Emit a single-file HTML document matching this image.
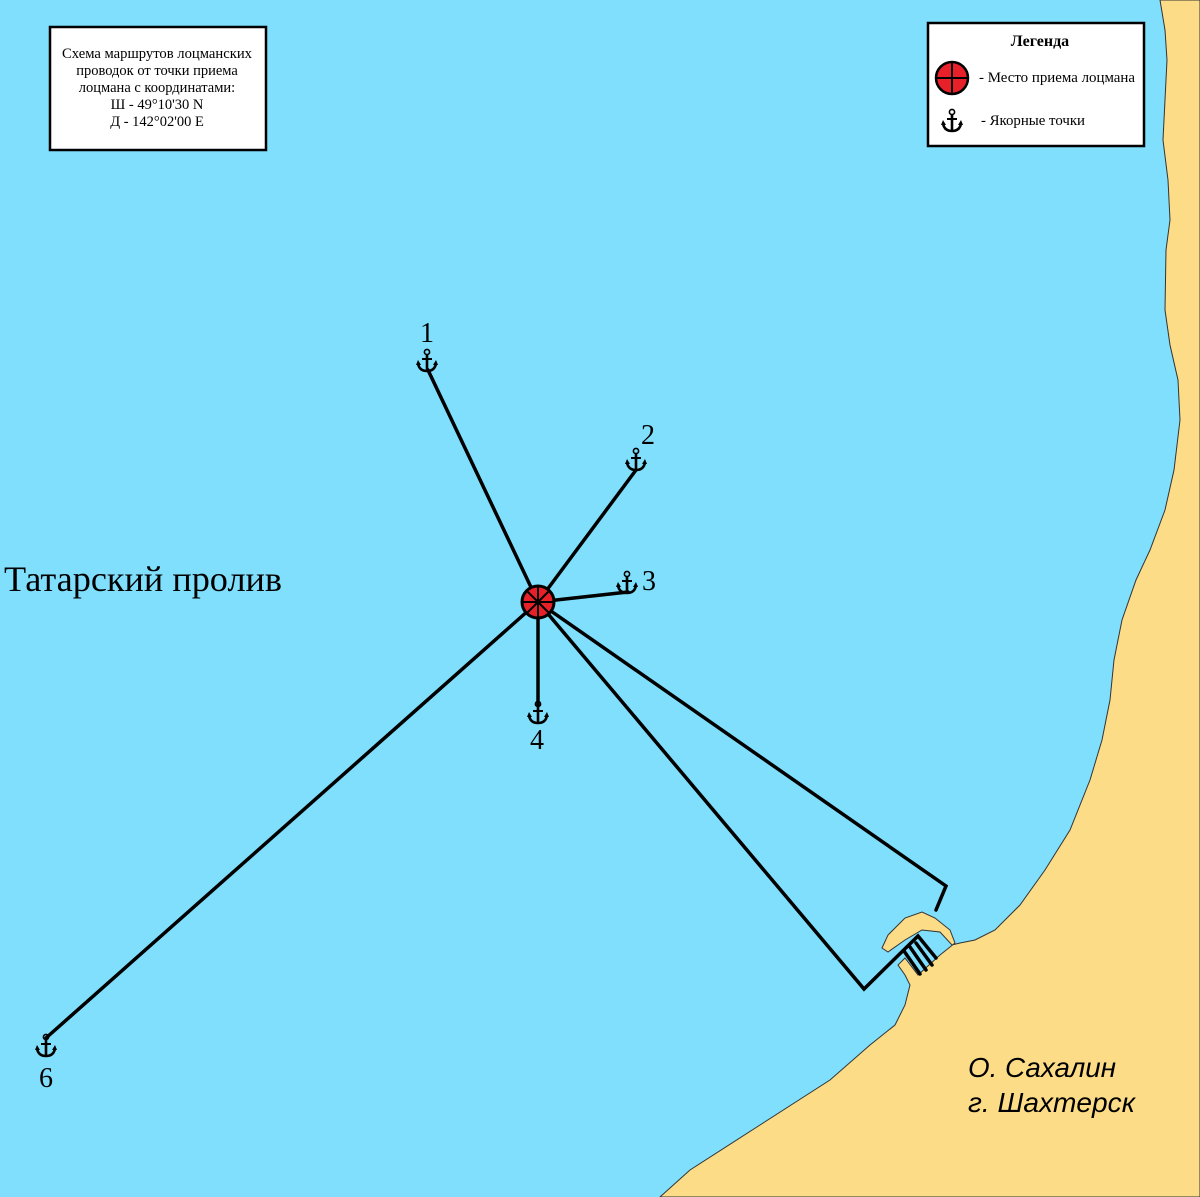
<!DOCTYPE html>
<html><head><meta charset="utf-8"><style>
body{margin:0;width:1200px;height:1197px;overflow:hidden;background:#7fdffd}
svg{display:block}
</style></head><body>
<svg width="1200" height="1197" viewBox="0 0 1200 1197" xmlns="http://www.w3.org/2000/svg">
<defs>
<g id="a">
<circle cx="0" cy="-10" r="2.6" fill="none" stroke="#000" stroke-width="1.6"/>
<line x1="0" y1="-7.5" x2="0" y2="8" stroke="#000" stroke-width="2.6"/>
<line x1="-5" y1="-3" x2="5" y2="-3" stroke="#000" stroke-width="2"/>
<path d="M-9 1 Q-8 9 0 9 Q8 9 9 1" fill="none" stroke="#000" stroke-width="2.6"/>
<path d="M-11 3 L-9 -2 L-6 3 Z M11 3 L9 -2 L6 3 Z" fill="#000"/>
</g>
</defs>
<rect width="1200" height="1197" fill="#7fdffd"/>
<path d="M1160 0 L1200 0 L1200 1197 L660 1197 L690 1170 L760 1125 L830 1080 L870 1045 L895 1025 L905 1005 L910 985 L905 975 L898 965 L905 958 L918 975 L940 955 L955 943 L950 930 L935 918 L922 912 L905 918 L888 935 L882 948 L888 952 L905 940 L922 930 L940 932 L952 945 L960 943 L975 940 L995 930 L1020 905 L1045 870 L1070 830 L1090 780 L1102 740 L1110 700 L1114 660 L1122 620 L1136 580 L1150 550 L1165 510 L1174 470 L1180 420 L1178 380 L1170 345 L1165 310 L1166 250 L1170 220 L1168 180 L1163 140 L1165 100 L1167 60 L1165 30 Z" fill="#fcdc87" stroke="#333" stroke-width="1"/>
<g stroke="#000" stroke-width="3.5" fill="none" stroke-linecap="round" stroke-linejoin="miter">
<line x1="538" y1="602" x2="428" y2="370"/>
<line x1="538" y1="602" x2="636" y2="470"/>
<line x1="538" y1="602" x2="628" y2="592"/>
<line x1="538" y1="602" x2="538" y2="705"/>
<line x1="538" y1="602" x2="46" y2="1038"/>
<polyline points="538,602 946,886 936,910"/>
<polyline points="538,602 864,989 918,936 936,958"/>
<line x1="904" y1="951" x2="920" y2="974"/>
<line x1="910" y1="947" x2="926" y2="970"/>
<line x1="916" y1="943" x2="932" y2="965"/>
</g>
<circle cx="538" cy="602" r="16" fill="#e8202a" stroke="#000" stroke-width="3"/>
<g stroke="#000" stroke-width="2"><line x1="538" y1="587" x2="538" y2="617"/><line x1="523" y1="602" x2="553" y2="602"/><line x1="527" y1="591" x2="549" y2="613"/><line x1="549" y1="591" x2="527" y2="613"/></g>
<use href="#a" x="427" y="362"/>
<use href="#a" x="636" y="461"/>
<use href="#a" x="627" y="584"/>
<use href="#a" x="538" y="714"/>
<use href="#a" x="46" y="1047"/>
<g font-family="Liberation Serif,serif" font-size="28" fill="#000" text-anchor="middle">
<text x="427" y="342">1</text><text x="648" y="444">2</text><text x="649" y="590">3</text><text x="537" y="749">4</text><text x="46" y="1087">6</text>
</g>
<text x="4" y="591" font-family="Liberation Serif,serif" font-size="36" textLength="278" lengthAdjust="spacingAndGlyphs">Татарский пролив</text>
<g font-family="Liberation Sans,sans-serif" font-style="italic" font-size="28"><text x="968" y="1077" textLength="148" lengthAdjust="spacingAndGlyphs">О. Сахалин</text><text x="968" y="1112" textLength="167" lengthAdjust="spacingAndGlyphs">г. Шахтерск</text></g>
<rect x="50" y="27" width="216" height="123" fill="#fff" stroke="#000" stroke-width="2.5"/>
<g font-family="Liberation Serif,serif" font-size="14.5" text-anchor="middle"><text x="157" y="58" textLength="190" lengthAdjust="spacingAndGlyphs">Схема маршрутов лоцманских</text><text x="157" y="75">проводок от точки приема</text><text x="157" y="92">лоцмана с координатами:</text><text x="157" y="109">Ш - 49°10'30 N</text><text x="157" y="126">Д - 142°02'00 E</text></g>
<rect x="928" y="23" width="216" height="123" fill="#fff" stroke="#000" stroke-width="2.5"/>
<text x="1040" y="46" font-family="Liberation Serif,serif" font-size="16" font-weight="bold" text-anchor="middle">Легенда</text>
<circle cx="952" cy="78" r="16" fill="#e8202a" stroke="#000" stroke-width="2.5"/>
<g stroke="#000" stroke-width="2"><line x1="952" y1="63" x2="952" y2="93"/><line x1="937" y1="78" x2="967" y2="78"/></g>
<g font-family="Liberation Serif,serif" font-size="15"><text x="979" y="82" textLength="156" lengthAdjust="spacingAndGlyphs">-  Место приема лоцмана</text><text x="981" y="125" textLength="104" lengthAdjust="spacingAndGlyphs">- Якорные точки</text></g>
<use href="#a" x="952" y="122"/>
</svg>
</body></html>
